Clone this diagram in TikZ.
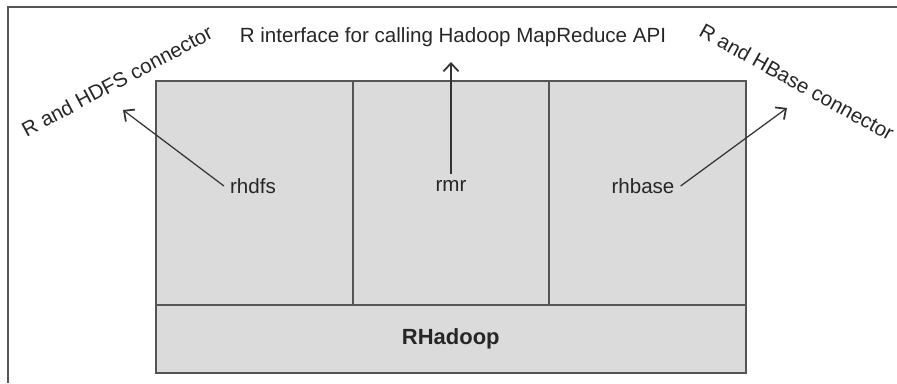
\documentclass[tikz,border=0pt]{standalone}
\usepackage{fontspec}
\setmainfont{Liberation Sans}
\usepackage{tikz}
\usetikzlibrary{arrows.meta,positioning}
\usepackage{xcolor}
\definecolor{boxgray}{RGB}{218, 219, 218}
\definecolor{linegray}{RGB}{85, 85, 85}

\begin{document}
\begin{tikzpicture}[x=0.02cm, y=-0.02cm,
    part/.style={rectangle, draw=linegray, line width=0.9pt, fill=boxgray, inner sep=0pt, anchor=north west},
    pkg/.style={font=\fontsize{11.7}{13}\selectfont, text=black!85},
    note/.style={font=\fontsize{11.7}{13}\selectfont, text=black!85, inner sep=0pt},
    pointer/.style={draw=black!80, line width=0.7pt, -{Straight Barb[length=1.6mm, width=3mm, line width=1pt]}},
]
    \useasboundingbox (0,0) rectangle (897,383);

    % Frame
    \draw[linegray, line width=1.1pt] (8,383) -- (8,7) -- (897,7);

    % Boxes
    \node[part, minimum width=197*0.02cm, minimum height=224*0.02cm] (hdfsbox) at (155,80) {};
    \node[part, minimum width=196*0.02cm, minimum height=224*0.02cm] (mrbox) at (352,80) {};
    \node[part, minimum width=197*0.02cm, minimum height=224*0.02cm] (hbasebox) at (548,80) {};
    \node[part, minimum width=590*0.02cm, minimum height=68*0.02cm] (base) at (155,304) {};
    \node[pkg, font=\fontsize{12.5}{14}\selectfont\bfseries] (rhadoop) at (base.center) {RHadoop};

    % Packages
    \node[pkg] (rhdfs) at (253,186) {rhdfs};
    \node[pkg] (rmr) at (451,186) {rmr};
    \node[pkg] (rhbase) at (643,186) {rhbase};

    % Descriptions
    \node[note] (api) at (453,37) {R interface for calling Hadoop MapReduce API};
    \node[note, rotate=28] (hdfsnote) at (117,81) {R and HDFS connector};
    \node[note, rotate=-29] (hbasenote) at (797,82) {R and HBase connector};

    % Arrows
    \coordinate (hdfstip) at (123,110);
    \coordinate (rmrtip) at (451,62);
    \coordinate (hbasetip) at (787,108);
    \draw[pointer] (rhdfs.west) -- (hdfstip);
    \draw[pointer] (rmr.north) -- (rmrtip);
    \draw[pointer] (rhbase.east) -- (hbasetip);
\end{tikzpicture}
\end{document}
